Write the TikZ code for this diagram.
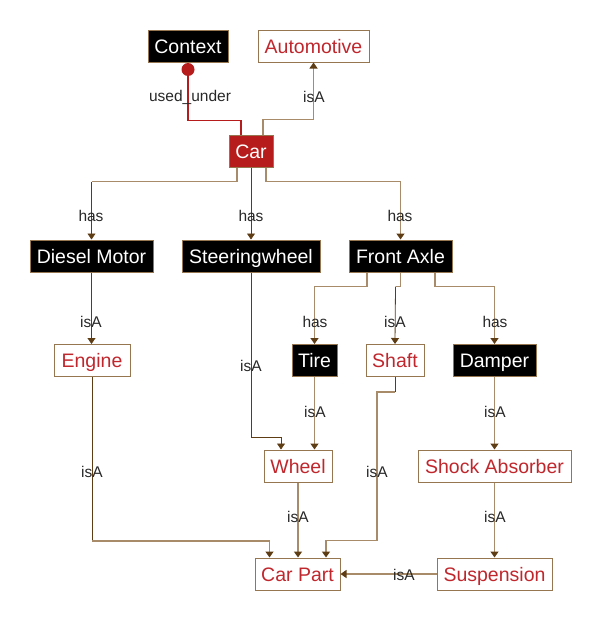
\documentclass[tikz,border=0pt]{standalone}
\usepackage{fontspec}
\setmainfont{Liberation Sans}
\usetikzlibrary{arrows.meta}
\definecolor{redtxt}{RGB}{192,39,45}
\definecolor{carfill}{RGB}{183,28,28}
\definecolor{edgelt}{RGB}{168,140,105}
\definecolor{edgedk}{RGB}{94,60,20}
\definecolor{bordc}{RGB}{150,118,80}
\definecolor{lblc}{RGB}{40,40,40}
\tikzset{
  x=1pt, y=-1pt,
  box/.style={minimum height=32pt, inner sep=0pt, line width=1pt, draw=bordc,
    text height=16.5pt, text depth=2.5pt,
    font=\fontsize{19.5}{20}\selectfont},
  blackbox/.style={box, fill=black, text=white},
  whitebox/.style={box, fill=white, text=redtxt},
  redbox/.style={box, fill=carfill, text=white},
  lt/.style={draw=edgelt, line width=1.3pt},
  dk/.style={draw=edgedk, line width=0.8pt},
  arr/.style={-{Triangle[width=8pt,length=6pt,color=edgedk]}},
  lbl/.style={font=\fontsize{15.5}{16}\selectfont, text=lblc, inner sep=0pt},
  usedline/.style={draw=carfill, line width=1.6pt}
}
\begin{document}
\begin{tikzpicture}
\useasboundingbox (0,0) rectangle (602,621);
% nodes
\node[blackbox, minimum width=80pt] (ctx) at (188,46) {Context};
\node[whitebox, minimum width=111pt] (auto) at (313.5,46) {Automotive};
\node[redbox, minimum width=44pt] (car) at (251,151) {Car};
\node[blackbox, minimum width=123pt] (diesel) at (91.5,256) {Diesel Motor};
\node[blackbox, minimum width=138pt] (steer) at (251,256) {Steeringwheel};
\node[blackbox, minimum width=103pt] (front) at (400.5,256) {Front Axle};
\node[whitebox, minimum width=76pt] (engine) at (92,360.5) {Engine};
\node[blackbox, minimum width=45pt] (tire) at (314.5,360.5) {Tire};
\node[whitebox, minimum width=58pt] (shaft) at (395,360.5) {Shaft};
\node[blackbox, minimum width=83pt] (damper) at (494.5,360.5) {Damper};
\node[whitebox, minimum width=68pt] (wheel) at (298,466) {Wheel};
\node[whitebox, minimum width=153pt] (shock) at (494.5,466) {Shock Absorber};
\node[whitebox, minimum width=85pt] (carpart) at (297.5,574) {Car Part};
\node[whitebox, minimum width=115pt] (susp) at (494.5,574) {Suspension};

% Context -> Car (used_under)
\draw[usedline] (ctx.south) -- ++(0,58) -| ([xshift=-10pt]car.north);
\fill[carfill] ([yshift=-7pt]ctx.south) circle (6.5);
\node[lbl] (l1) at (190,97) {used\_under};

% Car -> Automotive
\draw[lt,arr] ([xshift=12pt]car.north) -- ++(0,-15) -| (auto.south);
\node[lbl] (l2) at (314,97) {isA};

% Car -> Diesel Motor
\draw[lt] ([xshift=-14pt]car.south) -- ++(0,14) -- ++(-145.5,0) coordinate (dA);
\draw[dk,arr] (dA) -- (diesel.north);
\node[lbl] (l3) at (91,216) {has};

% Car -> Steeringwheel
\draw[dk,arr] (car.south) -- (steer.north);
\node[lbl] (l4) at (251,216) {has};

% Car -> Front Axle
\draw[lt,arr] ([xshift=15pt]car.south) -- ++(0,14) -| (front.north);
\node[lbl] (l5) at (400,216) {has};

% Diesel Motor -> Engine
\draw[dk,arr] (diesel.south) -- (diesel.south |- engine.north);
\node[lbl] (l6) at (91,322) {isA};

% Steeringwheel -> Wheel
\draw[dk,arr] (steer.south) -- ++(0,165) -| ([xshift=-17pt]wheel.north);
\node[lbl] (l7) at (251,366) {isA};

% Front Axle -> Tire / Shaft / Damper
\draw[lt,arr] ([xshift=-33.5pt]front.south) -- ++(0,14) -| (tire.north);
\node[lbl] (l8) at (315,322) {has};
\draw[lt] ([xshift=0pt]front.south) -- ++(0,14) -- ++(-5,0) coordinate (sA);
\draw[dk,arr] (sA) -- (shaft.north);
\node[lbl] (l9) at (395,322) {isA};
\draw[lt,arr] ([xshift=34.5pt]front.south) -- ++(0,14) -| (damper.north);
\node[lbl] (l10) at (495,322) {has};

% Tire -> Wheel
\draw[lt,arr] (tire.south) -- (tire.south |- wheel.north);
\node[lbl] (l11) at (315,412) {isA};

% Damper -> Shock Absorber
\draw[lt,arr] (damper.south) -- (shock.north);
\node[lbl] (l12) at (495,412) {isA};

% Engine -> Car Part
\draw[dk] (engine.south) -- ++(0,164) coordinate (eA);
\draw[lt,arr] (eA) -| ([xshift=-28pt]carpart.north);
\node[lbl] (l13) at (92,472) {isA};

% Wheel -> Car Part
\draw[lt,arr] (wheel.south) -- (wheel.south |- carpart.north);
\node[lbl] (l14) at (298,517) {isA};

% Shaft -> Car Part
\draw[dk] (shaft.south) -- ++(0,15) coordinate (shA);
\draw[lt,arr] (shA) -- ++(-18,0) |- ([xshift=28.5pt,yshift=17pt]carpart.north) -- ([xshift=28.5pt]carpart.north);
\node[lbl] (l15) at (377,472) {isA};

% Shock Absorber -> Suspension
\draw[lt,arr] (shock.south) -- (susp.north);
\node[lbl] (l16) at (495,517) {isA};

% Suspension -> Car Part
\draw[lt,arr] (susp.west) -- (carpart.east);
\node[lbl] (l17) at (404,575) {isA};
\end{tikzpicture}
\end{document}
